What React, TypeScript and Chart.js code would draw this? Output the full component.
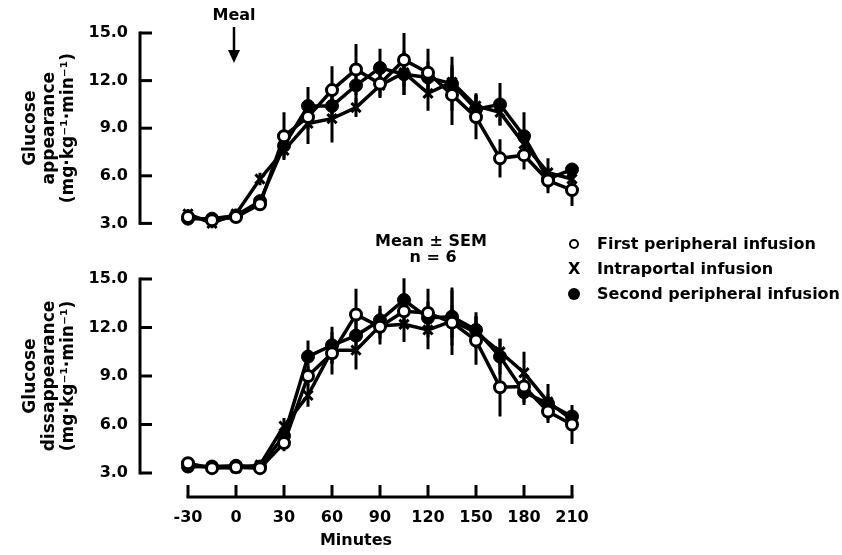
import React, { useEffect, useRef } from "react";
import { Chart, registerables } from "chart.js";

Chart.register(...registerables);

// ---------- data ----------
const minutes = [-30, -15, 0, 15, 30, 45, 60, 75, 90, 105, 120, 135, 150, 165, 180, 195, 210];
const xTickValues = [-30, 0, 30, 60, 90, 120, 150, 180, 210];
const yTickValues = [3, 6, 9, 12, 15];

// Glucose appearance (top panel)
const appFirst = [3.4, 3.2, 3.4, 4.2, 8.5, 9.7, 11.4, 12.7, 11.8, 13.3, 12.5, 11.1, 9.7, 7.1, 7.3, 5.7, 5.1];
const appFirstSem = [0.3, 0.2, 0.2, 0.4, 1.5, 0.8, 1.5, 1.6, 0.8, 1.7, 1.5, 1.9, 1.4, 1.2, 0.9, 0.8, 1.0];
const appIntra = [3.6, 3.0, 3.6, 5.8, 7.6, 9.3, 9.6, 10.3, 11.7, 12.5, 11.2, 11.9, 10.4, 10.0, 8.0, 6.2, 5.8];
const appIntraSem = [0.3, 0.3, 0.3, 0.4, 0.5, 1.3, 1.5, 0.6, 0.8, 1.4, 1.1, 0.9, 0.8, 0.8, 0.8, 0.9, 0.6];
const appSecond = [3.3, 3.3, 3.5, 4.4, 7.9, 10.4, 10.4, 11.7, 12.8, 12.4, 12.2, 11.8, 10.2, 10.5, 8.5, 5.8, 6.4];
const appSecondSem = [0.3, 0.3, 0.2, 0.4, 0.6, 1.2, 1.0, 1.3, 1.2, 1.3, 1.0, 1.7, 0.9, 1.35, 1.5, 0.6, 0.3];

// Glucose disappearance (bottom panel)
const disFirst = [3.6, 3.3, 3.35, 3.3, 4.85, 9.0, 10.4, 12.8, 12.05, 13.0, 12.9, 12.3, 11.2, 8.3, 8.35, 6.8, 6.0];
const disFirstSem = [0.3, 0.2, 0.2, 0.2, 0.5, 0.6, 1.3, 1.6, 1.1, 1.0, 1.5, 2.0, 1.5, 1.8, 1.0, 0.7, 1.2];
const disIntra = [3.4, 3.4, 3.3, 3.5, 5.9, 7.8, 10.6, 10.6, 12.1, 12.2, 11.85, 12.4, 11.7, 10.5, 9.2, 7.4, 6.3];
const disIntraSem = [0.3, 0.3, 0.3, 0.3, 0.5, 0.7, 0.8, 1.2, 0.8, 1.1, 1.2, 1.0, 1.0, 0.8, 1.3, 1.1, 0.5];
const disSecond = [3.4, 3.4, 3.45, 3.4, 5.3, 10.2, 10.9, 11.5, 12.45, 13.7, 12.6, 12.67, 11.85, 10.2, 8.0, 7.3, 6.5];
const disSecondSem = [0.3, 0.3, 0.3, 0.3, 0.5, 1.0, 1.15, 0.9, 0.9, 1.35, 1.0, 1.8, 1.1, 1.1, 0.8, 0.6, 0.4];

const seriesLabels = ["First peripheral infusion", "Intraportal infusion", "Second peripheral infusion"];
const topTitle = ["Glucose", "appearance", "(mg\u00b7kg\u207b\u00b9\u00b7min\u207b\u00b9)"];
const bottomTitle = ["Glucose", "dissappearance", "(mg\u00b7kg\u207b\u00b9\u00b7min\u207b\u00b9)"];
const xTitle = "Minutes";
const mealLabel = "Meal";

// ---------- style ----------
const FONT = "'DejaVu Sans', 'Liberation Sans', sans-serif";
Chart.defaults.font.family = FONT;
Chart.defaults.font.size = 16;
Chart.defaults.font.weight = "bold";
Chart.defaults.color = "#000";

const toPts = (vals: number[]) => minutes.map((t, i) => ({ x: t, y: vals[i] }));
const errPts = (vals: number[], sems: number[]) => {
  const out: { x: number; y: number | null }[] = [];
  minutes.forEach((t, i) => {
    out.push({ x: t, y: vals[i] - sems[i] });
    out.push({ x: t, y: vals[i] + sems[i] });
    out.push({ x: t, y: null });
  });
  return out;
};

function buildDatasets(first: number[], firstSem: number[], intra: number[], intraSem: number[], second: number[], secondSem: number[]) {
  const base = { borderColor: "#000", borderWidth: 3.5, tension: 0, clip: false as any, pointBorderColor: "#000" };
  const err = { borderColor: "#000", borderWidth: 3, pointRadius: 0, spanGaps: false, clip: false as any, tension: 0 };
  return [
    { ...base, label: seriesLabels[0], data: toPts(first), pointStyle: "circle", pointRadius: 5.5, pointBackgroundColor: "#fff", pointBorderWidth: 3, order: 1 },
    { ...base, label: seriesLabels[1], data: toPts(intra), pointStyle: "crossRot", pointRadius: 6.5, pointBackgroundColor: "#000", pointBorderWidth: 3, order: 2 },
    { ...base, label: seriesLabels[2], data: toPts(second), pointStyle: "circle", pointRadius: 6.5, pointBackgroundColor: "#000", pointBorderWidth: 1, order: 3 },
    { ...err, label: "sem1", data: errPts(first, firstSem), order: 10 },
    { ...err, label: "sem2", data: errPts(intra, intraSem), order: 11 },
    { ...err, label: "sem3", data: errPts(second, secondSem), order: 12 },
  ];
}

const axisDecor = (drawX: boolean, drawMeal: boolean) => ({
  id: "axisDecor",
  afterDraw(chart: any) {
    const { ctx, chartArea, scales } = chart;
    const x = scales.x;
    const y = scales.y;
    ctx.save();
    ctx.strokeStyle = "#000";
    ctx.fillStyle = "#000";
    ctx.lineWidth = 3;
    ctx.lineCap = "butt";
    // y axis line + inward ticks
    const left = chartArea.left;
    ctx.beginPath();
    ctx.moveTo(left, y.getPixelForValue(15) - 1.5);
    ctx.lineTo(left, y.getPixelForValue(3) + 1.5);
    ctx.stroke();
    yTickValues.forEach((v) => {
      const py = y.getPixelForValue(v);
      ctx.beginPath();
      ctx.moveTo(left, py);
      ctx.lineTo(left + 12, py);
      ctx.stroke();
    });
    if (drawX) {
      const ay = chartArea.bottom + 24;
      ctx.beginPath();
      ctx.moveTo(x.getPixelForValue(-30) - 1.5, ay);
      ctx.lineTo(x.getPixelForValue(210) + 1.5, ay);
      ctx.stroke();
      xTickValues.forEach((v) => {
        const px = x.getPixelForValue(v);
        ctx.beginPath();
        ctx.moveTo(px, ay);
        ctx.lineTo(px, ay - 12);
        ctx.stroke();
      });
    }
    if (drawMeal) {
      const px = x.getPixelForValue(0) - 2;
      ctx.font = `bold 16px ${FONT}`;
      ctx.textAlign = "center";
      ctx.textBaseline = "middle";
      ctx.fillText(mealLabel, px, 16);
      ctx.lineWidth = 2.5;
      ctx.beginPath();
      ctx.moveTo(px, 27);
      ctx.lineTo(px, 52);
      ctx.stroke();
      ctx.beginPath();
      ctx.moveTo(px - 6, 50);
      ctx.lineTo(px + 6, 50);
      ctx.lineTo(px, 63);
      ctx.closePath();
      ctx.fill();
    }
    ctx.restore();
  },
});

function Panel(props: { top: number; height: number; padTop: number; padBottom: number; showX: boolean; title: string[]; datasets: any[]; meal: boolean }) {
  const ref = useRef<HTMLCanvasElement | null>(null);
  useEffect(() => {
    if (!ref.current) return;
    const chart = new Chart(ref.current, {
      type: "line",
      data: { datasets: props.datasets },
      options: {
        animation: false,
        responsive: false,
        devicePixelRatio: 1,
        layout: { padding: { top: props.padTop, bottom: props.padBottom, left: 0, right: 270 } },
        plugins: { legend: { display: false }, tooltip: { enabled: false } },
        scales: {
          x: {
            type: "linear",
            min: -60,
            max: 210,
            display: props.showX,
            grid: { display: false, drawTicks: false },
            border: { display: false },
            afterBuildTicks: (s: any) => {
              s.ticks = xTickValues.map((v) => ({ value: v }));
            },
            afterFit: (s: any) => {
              if (props.showX) s.height = 82;
            },
            ticks: { autoSkip: false, maxRotation: 0, padding: 35, font: { size: 16, weight: "bold" }, color: "#000" },
            title: { display: true, text: xTitle, font: { size: 16, weight: "bold" }, color: "#000", padding: { top: 0, bottom: 5 } },
          },
          y: {
            type: "linear",
            min: 3,
            max: 15,
            grid: { display: false, drawTicks: false },
            border: { display: false },
            afterBuildTicks: (s: any) => {
              s.ticks = yTickValues.map((v) => ({ value: v }));
            },
            afterFit: (s: any) => {
              s.width = 140;
            },
            ticks: { padding: 12, callback: (v: any) => Number(v).toFixed(1), font: { size: 16, weight: "bold" }, color: "#000" },
            title: { display: true, text: props.title, font: { size: 17, weight: "bold", lineHeight: 1.13 }, color: "#000", padding: { top: 21, bottom: 0 } },
          },
        },
      },
      plugins: [axisDecor(props.showX, props.meal)],
    } as any);
    return () => chart.destroy();
  }, []);
  return (
    <canvas
      ref={ref}
      width={842}
      height={props.height}
      style={{ position: "absolute", left: 0, top: props.top, width: 842, height: props.height }}
    />
  );
}

const txt: React.CSSProperties = {
  position: "absolute",
  fontFamily: FONT,
  fontWeight: "bold",
  fontSize: 16,
  lineHeight: "20px",
  color: "#000",
  whiteSpace: "nowrap",
};

export default function App() {
  const topSets = buildDatasets(appFirst, appFirstSem, appIntra, appIntraSem, appSecond, appSecondSem);
  const botSets = buildDatasets(disFirst, disFirstSem, disIntra, disIntraSem, disSecond, disSecondSem);
  return (
    <div style={{ position: "absolute", left: 0, top: 0, width: 842, height: 555, background: "#fff", overflow: "hidden" }}>
      <Panel top={0} height={245} padTop={33} padBottom={17} showX={false} title={topTitle} datasets={topSets} meal={true} />
      <Panel top={245} height={310} padTop={34} padBottom={0} showX={true} title={bottomTitle} datasets={botSets} meal={false} />
      <div style={{ ...txt, left: 331, width: 200, textAlign: "center", top: 231 }}>Mean ± SEM</div>
      <div style={{ ...txt, left: 333, width: 200, textAlign: "center", top: 247 }}>n = 6</div>
      <div style={{ position: "absolute", left: 569, top: 239, width: 6, height: 6, border: "2.5px solid #000", borderRadius: "50%" }} />
      <div style={{ ...txt, left: 597, top: 234 }}>{seriesLabels[0]}</div>
      <div style={{ ...txt, left: 568, top: 259 }}>X</div>
      <div style={{ ...txt, left: 597, top: 259 }}>{seriesLabels[1]}</div>
      <div style={{ position: "absolute", left: 568, top: 288, width: 12, height: 12, background: "#000", borderRadius: "50%" }} />
      <div style={{ ...txt, left: 597, top: 284 }}>{seriesLabels[2]}</div>
    </div>
  );
}
